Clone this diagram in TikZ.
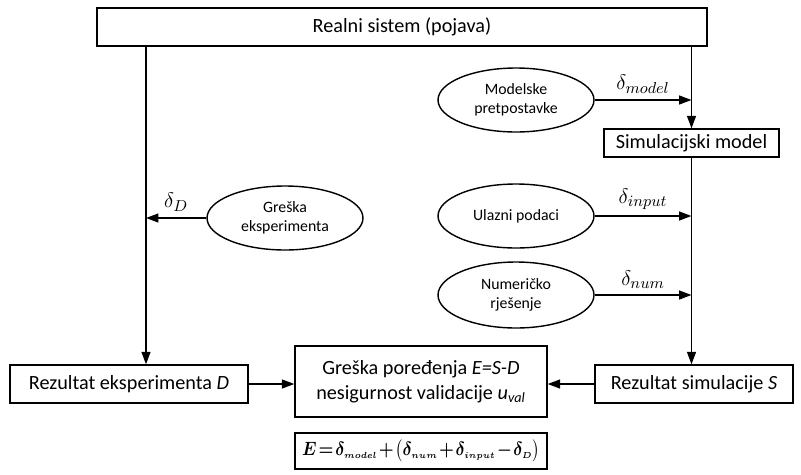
\documentclass[tikz,border=0pt]{standalone}
\usepackage{amsmath,amssymb}
\usepackage{bm}
\usepackage{fontspec}
\setmainfont{Carlito}
\usepackage{tikz}
\usetikzlibrary{shapes.geometric, arrows.meta, positioning}

\newcommand{\errsum}{\scalebox{0.87}[1]{$\thickmuskip=2mu \medmuskip=1.5mu
  \bm{E=\delta_{\scriptscriptstyle model}+\bigl(\delta_{\scriptscriptstyle num}+\delta_{\scriptscriptstyle input}-\delta_{\scriptscriptstyle D}\bigr)}$}}

\begin{document}
\begin{tikzpicture}[
    x=0.02cm, y=-0.02cm,
    box/.style={rectangle, draw=black, thick, fill=white, align=center, inner sep=0pt, font=\fontsize{11.5}{14}\selectfont},
    cause/.style={ellipse, draw=black, thick, align=center, minimum width=3.12cm, minimum height=1.28cm, inner sep=0pt, font=\fontsize{9}{11}\selectfont},
    arrow/.style={thick, -{Triangle[length=2.5mm, width=1.8mm]}},
    err/.style={midway, above, font=\fontsize{13}{15}\selectfont}
]
\useasboundingbox (0,0) rectangle (801,474);

\node (real) [box, minimum width=12.2cm, minimum height=0.76cm] at (402,27) {Realni sistem (pojava)};
\node (sim) [box, minimum width=3.5cm, minimum height=0.56cm] at (691.5,143) {Simulacijski model};

\node (model) [cause] at (516,100) {Modelske\\pretpostavke};
\node (input) [cause] at (516,216) {Ulazni podaci};
\node (num) [cause, minimum height=1.32cm] at (516,295) {Numeričko\\rješenje};
\node (exp) [cause] at (285,218) {Greška\\eksperimenta};

\node (resexp) [box, minimum width=4.76cm, minimum height=0.76cm] at (129,384) {Rezultat eksperimenta \textit{D}};
\node (cmp) [box, minimum width=5.04cm, minimum height=1.42cm] at (421,381.5) {Greška poređenja \textit{E=S-D}\\nesigurnost validacije \textit{u}\textsubscript{\textit{val}}};
\node (ressim) [box, minimum width=3.96cm, minimum height=0.76cm] at (694,384) {Rezultat simulacije \textit{S}};
\node (eq) [box, minimum width=5.04cm, minimum height=0.72cm, font=\fontsize{10.5}{12}\selectfont] at (421,451) {\errsum};

\coordinate (lx) at (146,0);

\draw [arrow] (lx |- real.south) -- (lx |- resexp.north);
\draw [arrow] (sim.north |- real.south) -- (sim.north);
\draw [arrow] (sim.south) -- (sim.south |- ressim.north);

\draw [arrow] (model.east) -- (model.east -| sim) node[err] {$\delta_{model}$};
\draw [arrow] (input.east) -- (input.east -| sim) node[err] {$\delta_{input}$};
\draw [arrow] (num.east) -- (num.east -| sim) node[err] {$\delta_{num}$};
\draw [arrow] (exp.west) -- (exp.west -| lx) node[err] {$\delta_{D}$};

\draw [arrow] (resexp.east) -- (resexp.east -| cmp.west);
\draw [arrow] (ressim.west) -- (ressim.west -| cmp.east);

\end{tikzpicture}
\end{document}
